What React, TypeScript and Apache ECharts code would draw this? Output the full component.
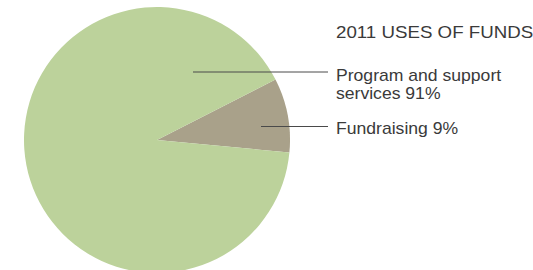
import React, { useEffect, useRef } from "react";
import * as echarts from "echarts";

const title = "2011 USES OF FUNDS";
const categories = ["Fundraising", "Program and support services"];
const values = [9, 91];
const labelLines = [["Fundraising 9%"], ["Program and support", "services 91%"]];
const colors = ["#A9A18A", "#BCD29B"];

export default function App() {
  const ref = useRef<HTMLDivElement>(null);
  useEffect(() => {
    if (!ref.current) return;
    const chart = echarts.init(ref.current, null, { renderer: "svg" });
    const font = "'Liberation Sans', Arial, Helvetica, sans-serif";
    const textColor = "#3a3a3a";
    const lineColor = "#4a4a4a";
    chart.setOption({
      animation: false,
      backgroundColor: "#ffffff",
      series: [
        {
          type: "pie",
          center: [157, 140],
          radius: 133,
          startAngle: 27,
          clockwise: true,
          z: 1,
          label: { show: false },
          labelLine: { show: false },
          emphasis: { disabled: true },
          itemStyle: { borderWidth: 0 },
          data: categories.map((c, i) => ({
            name: c,
            value: values[i],
            itemStyle: { color: colors[i] },
          })),
        },
      ],
      graphic: {
        elements: [
          {
            type: "text",
            x: 336,
            y: 32.8,
            scaleX: 1.17,
            z: 100,
            style: {
              text: title,
              font: `16px ${font}`,
              fill: textColor,
              verticalAlign: "middle",
              align: "left",
            },
          },
          {
            type: "line",
            z: 100,
            shape: { x1: 193, y1: 72, x2: 328, y2: 72 },
            style: { stroke: lineColor, lineWidth: 1 },
          },
          {
            type: "line",
            z: 100,
            shape: { x1: 261, y1: 126.5, x2: 328, y2: 126.5 },
            style: { stroke: lineColor, lineWidth: 1 },
          },
          {
            type: "text",
            x: 336,
            y: 84.6,
            scaleX: 1.1,
            z: 100,
            style: {
              text: labelLines[1].join("\n"),
              font: `16px ${font}`,
              lineHeight: 18.3,
              fill: textColor,
              verticalAlign: "middle",
              align: "left",
            },
          },
          {
            type: "text",
            x: 336,
            y: 128.5,
            scaleX: 1.1,
            z: 100,
            style: {
              text: labelLines[0].join("\n"),
              font: `16px ${font}`,
              fill: textColor,
              verticalAlign: "middle",
              align: "left",
            },
          },
        ],
      },
    });
    return () => chart.dispose();
  }, []);
  return (
    <div
      ref={ref}
      style={{ position: "fixed", left: 0, top: 0, width: 533, height: 270 }}
    />
  );
}
